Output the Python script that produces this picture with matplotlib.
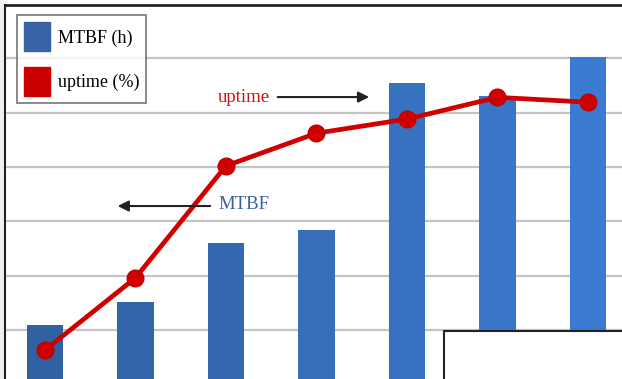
import matplotlib.pyplot as plt
import numpy as np
from matplotlib.patches import Patch, Rectangle
from matplotlib.lines import Line2D

# values (units = gridline steps, no tick labels shown)
categories = np.arange(7)
mtbf = [1.09, 1.52, 2.60, 2.84, 5.54, 5.30, 6.02]
uptime = [0.63, 1.96, 4.02, 4.62, 4.88, 5.28, 5.19]

plt.rcParams['font.family'] = ['Liberation Serif', 'DejaVu Serif']

fig = plt.figure(figsize=(6.22, 3.79), dpi=100)
ax = fig.add_axes([0, 0, 1, 1])

# bars get a bit brighter from left to right
bar_colors = [plt.cm.colors.to_hex(c) for c in
              np.linspace(np.array([0.19, 0.38, 0.63]), np.array([0.23, 0.48, 0.82]), len(categories))]
ax.bar(categories, mtbf, width=0.40, color=bar_colors, zorder=2)

ax.plot(categories, uptime, color='#d00000', lw=3.4, marker='o', markersize=12,
        markerfacecolor='#d00000', markeredgecolor='#c00000', zorder=3)

ax.set_xlim(-0.497, 6.376)
ax.set_ylim(0.1, 7.07)
ax.set_yticks(range(1, 7))
ax.set_xticks([])
ax.yaxis.grid(True, color='#c4c4c4', lw=1.6, zorder=0)
ax.tick_params(left=False, labelleft=False)
for s in ax.spines.values():
    s.set_visible(False)

# annotations
ax.text(2.486, 5.285, 'uptime', color='#d01010', fontsize=13.5, ha='right', va='center')
ax.annotate('', xy=(3.613, 5.285), xytext=(2.541, 5.285),
            arrowprops=dict(arrowstyle='-|>', color='#222222', lw=1.5, mutation_scale=16))
ax.text(1.912, 3.30, 'MTBF', color='#3a5f9e', fontsize=13.5, ha='left', va='center')
ax.annotate('', xy=(0.773, 3.281), xytext=(1.856, 3.281),
            arrowprops=dict(arrowstyle='-|>', color='#222222', lw=1.5, mutation_scale=16))

handles = [Patch(color='#3a62a6', label='MTBF (h)'),
           Patch(color='#cc0000', label='uptime (%)')]
leg = ax.legend(handles=handles, loc='upper left', bbox_to_anchor=(17 / 622, 1 - 15 / 379),
                fontsize=13, frameon=True, fancybox=False, edgecolor='#555555',
                handlelength=1.4, handleheight=2.1, handletextpad=0.45,
                labelspacing=0.85, borderpad=0.4, borderaxespad=0)
leg.get_frame().set_linewidth(1.2)

# frame pieces of the cropped picture
fig.add_artist(Rectangle((0, 0), 5 / 622, 1, transform=fig.transFigure,
                         color='#f0f0f0', zorder=4))
fig.add_artist(Line2D([5 / 622, 5 / 622], [0, 1 - 5 / 379], transform=fig.transFigure,
                      color='#222222', lw=1.5, zorder=5))
fig.add_artist(Line2D([5 / 622, 1], [1 - 5 / 379, 1 - 5 / 379], transform=fig.transFigure,
                      color='#222222', lw=2, zorder=5))
fig.add_artist(Rectangle((444 / 622, -0.02), 1, (379 - 331) / 379 + 0.02,
                         transform=fig.transFigure, facecolor='white',
                         edgecolor='#222222', lw=1.5, zorder=5))

fig.savefig('out.png', dpi=100)
